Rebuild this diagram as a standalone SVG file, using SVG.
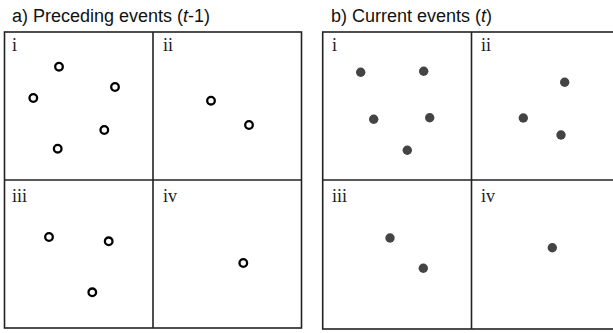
<svg xmlns="http://www.w3.org/2000/svg" width="613" height="333" viewBox="0 0 613 333">
<style>
.title{font-family:"Liberation Sans",Arial,sans-serif;font-size:18px;fill:#111}
.lab{font-family:"Liberation Serif","Times New Roman",serif;font-size:18px;fill:#222}
.frame{fill:none;stroke:#222;stroke-width:1.6}
.open{fill:#fff;stroke:#000;stroke-width:2.3}
.dot{fill:#444;stroke:none}
</style>
<rect width="613" height="333" fill="#fff"/>
<g id="panel-a">
<text class="title" x="12" y="22">a) Preceding events (<tspan font-style="italic">t</tspan>-1)</text>
<rect class="frame" x="4.5" y="32" width="297" height="296"/>
<line class="frame" x1="153" y1="32" x2="153" y2="328"/>
<line class="frame" x1="4.5" y1="180" x2="301.5" y2="180"/>
<g id="a-i"><text class="lab" x="12" y="51">i</text>
<circle class="open" cx="59" cy="66.7" r="3.8"/><circle class="open" cx="115" cy="87" r="3.8"/><circle class="open" cx="33.3" cy="98" r="3.8"/><circle class="open" cx="104.3" cy="130" r="3.8"/><circle class="open" cx="57.7" cy="148.7" r="3.8"/></g>
<g id="a-ii"><text class="lab" x="163" y="51">ii</text>
<circle class="open" cx="211" cy="100.7" r="3.8"/><circle class="open" cx="249" cy="125" r="3.8"/></g>
<g id="a-iii"><text class="lab" x="12" y="202">iii</text>
<circle class="open" cx="49" cy="237" r="3.8"/><circle class="open" cx="108.7" cy="241.3" r="3.8"/><circle class="open" cx="92.3" cy="292.3" r="3.8"/></g>
<g id="a-iv"><text class="lab" x="163" y="202">iv</text>
<circle class="open" cx="243.3" cy="263" r="3.8"/></g>
</g>
<g id="panel-b">
<text class="title" x="331" y="22">b) Current events (<tspan font-style="italic">t</tspan>)</text>
<rect class="frame" x="322.7" y="32" width="297" height="297"/>
<line class="frame" x1="471.5" y1="32" x2="471.5" y2="329"/>
<line class="frame" x1="322.7" y1="180" x2="619.7" y2="180"/>
<g id="b-i"><text class="lab" x="332" y="51">i</text>
<circle class="dot" cx="360.7" cy="72.3" r="4.7"/><circle class="dot" cx="423.7" cy="71.3" r="4.7"/><circle class="dot" cx="373.7" cy="119.3" r="4.7"/><circle class="dot" cx="429.7" cy="117.7" r="4.7"/><circle class="dot" cx="407.3" cy="150.3" r="4.7"/></g>
<g id="b-ii"><text class="lab" x="481" y="51">ii</text>
<circle class="dot" cx="564.7" cy="82.3" r="4.7"/><circle class="dot" cx="523.3" cy="118" r="4.7"/><circle class="dot" cx="561" cy="135" r="4.7"/></g>
<g id="b-iii"><text class="lab" x="332" y="202">iii</text>
<circle class="dot" cx="390" cy="238" r="4.7"/><circle class="dot" cx="423.3" cy="268.3" r="4.7"/></g>
<g id="b-iv"><text class="lab" x="481" y="202">iv</text>
<circle class="dot" cx="552.3" cy="247.7" r="4.7"/></g>
</g>
</svg>
